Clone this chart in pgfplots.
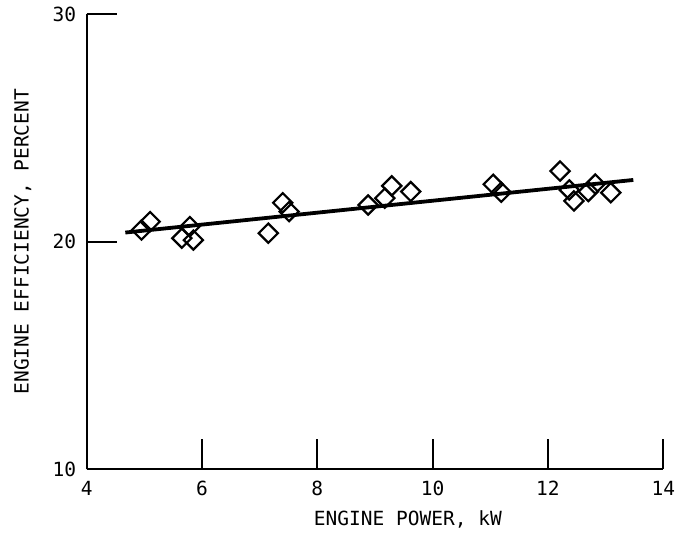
\documentclass[border=0pt]{standalone}
\usepackage{fontspec}
\setmainfont{DejaVu Sans Mono}
\usepackage{pgfplots}
\pgfplotsset{compat=1.18}
\begin{document}
\begin{tikzpicture}
\begin{axis}[
  scale only axis,
  width=576.6bp, height=455.3bp,
  xmin=4, xmax=14, ymin=10, ymax=30,
  axis x line=bottom, axis y line=left,
  axis line style={-, line width=2bp},
  xtick={4,6,8,10,12,14}, ytick={10,20,30},
  tick align=inside,
  major tick length=30bp,
  every tick/.style={black, line width=2bp},
  /pgf/number format/assume math mode=true,
  tick label style={font=\fontsize{19.5bp}{23bp}\selectfont},
  xticklabel style={yshift=-8bp},
  yticklabel style={xshift=-7bp},
  label style={font=\fontsize{19.5bp}{23bp}\selectfont},
  xlabel={ENGINE POWER, kW},
  ylabel={ENGINE EFFICIENCY, PERCENT},
  xlabel style={at={(axis description cs:0.557,-0.1103)}, anchor=center},
  ylabel style={at={(axis description cs:-0.111,0.5)}, anchor=center, rotate=0},
  clip=false,
]
\coordinate (O) at (rel axis cs:0,0);
\addplot[black, line width=3.8bp] coordinates {(4.67,20.40) (13.48,22.71)};
\addplot[only marks, mark=square, mark size=6.8bp, mark options={rotate=45, line width=2.2bp, black}] coordinates {
(4.95,20.51) (5.10,20.88) (5.65,20.15) (5.79,20.66) (5.85,20.07)
(7.15,20.37) (7.40,21.71) (7.51,21.32)
(8.88,21.61) (9.17,21.91) (9.29,22.45) (9.62,22.20)
(11.05,22.52) (11.19,22.17)
(12.21,23.10) (12.37,22.27) (12.45,21.79) (12.70,22.20) (12.82,22.53) (13.09,22.15)
};
\end{axis}
\pgfresetboundingbox
\path[use as bounding box] ([xshift=-86.7bp,yshift=-64.7bp]O) rectangle ++(679bp,534bp);
\end{tikzpicture}
\end{document}
